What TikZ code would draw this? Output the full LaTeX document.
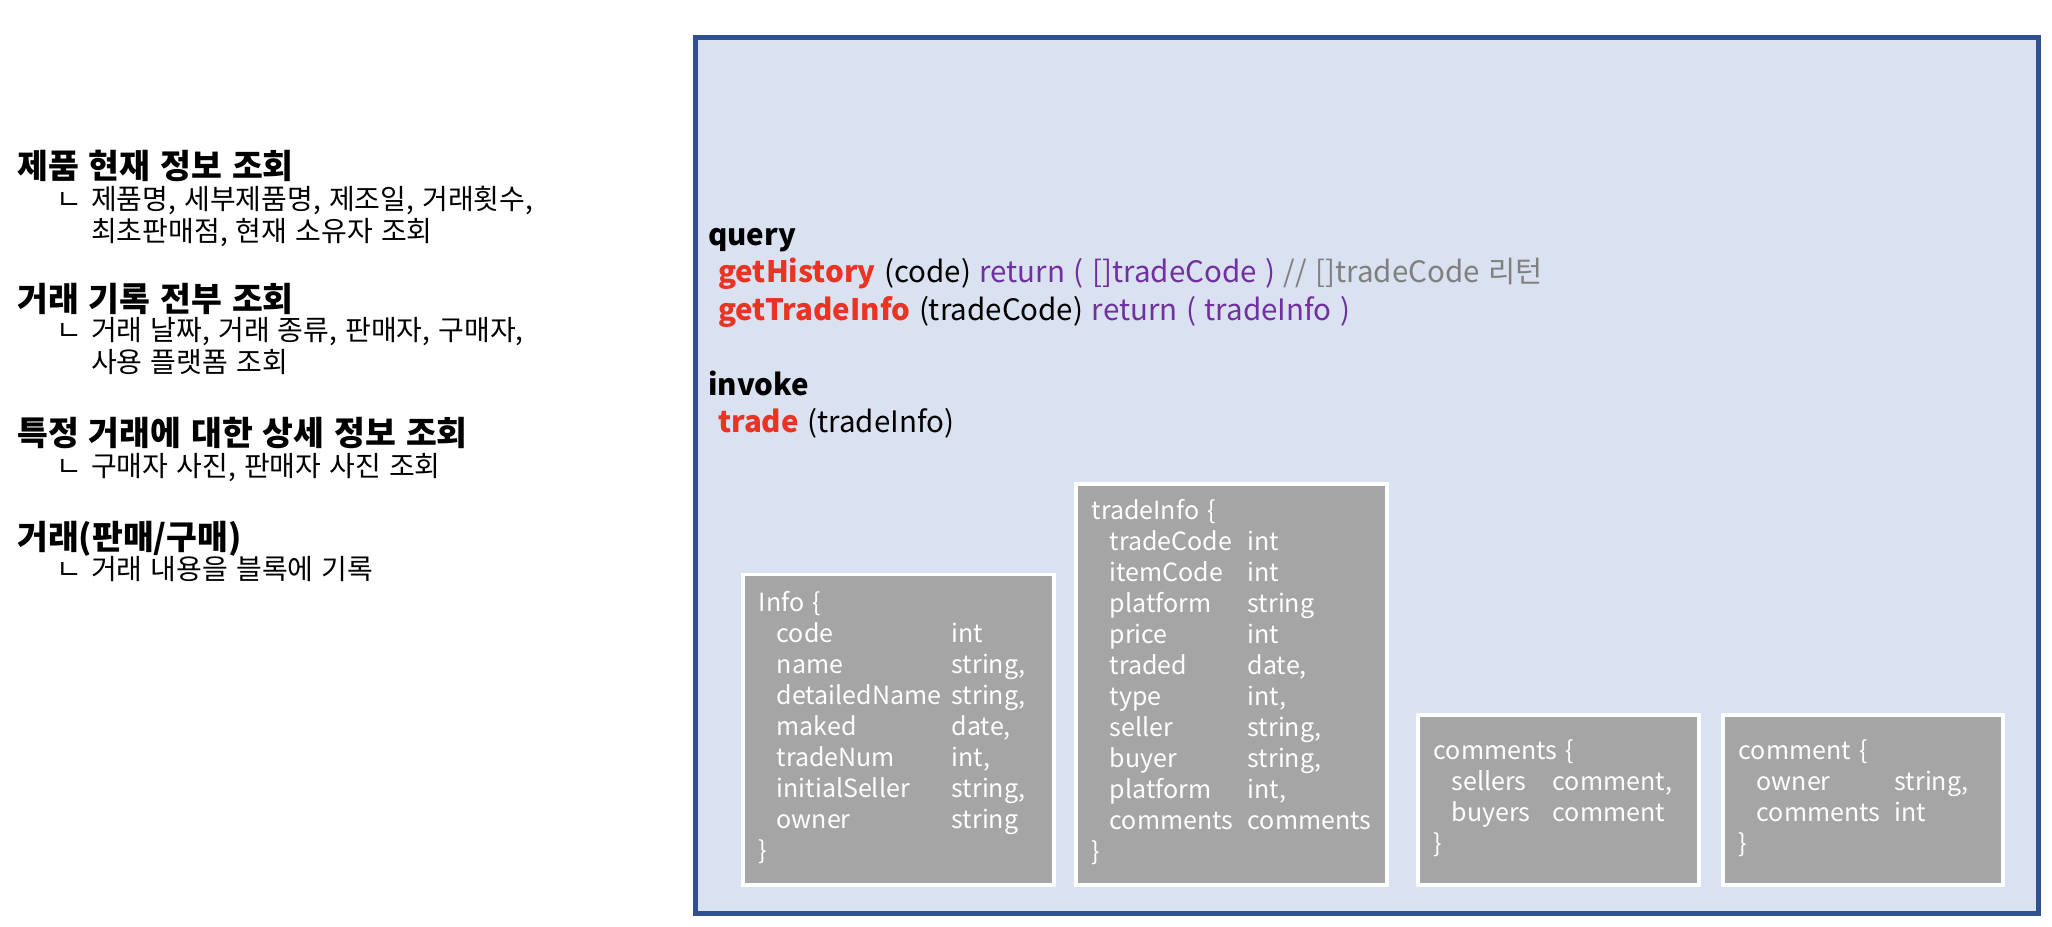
\documentclass[tikz,border=0pt]{standalone}
\usepackage{fontspec}
\setmainfont[WordSpace=1.3]{Noto Sans CJK KR}
\usetikzlibrary{positioning}
\definecolor{panelfill}{RGB}{218,225,240}
\definecolor{panelline}{RGB}{47,82,143}
\definecolor{boxgray}{RGB}{165,165,165}
\definecolor{fnred}{RGB}{234,51,35}
\definecolor{kwpurple}{RGB}{112,48,160}
\definecolor{cmtgray}{RGB}{128,128,128}
\tikzset{head/.style={anchor=base west, inner sep=0, font=\fontsize{33.5}{38}\selectfont\bfseries},
% the sub lines under each heading
sub/.style={anchor=base west, inner sep=0, font=\fontsize{28}{30.5}\selectfont},
panel/.style={draw=panelline, line width=5, fill=panelfill, anchor=north west, inner sep=0},
struct/.style={draw=white, line width=3.5, fill=boxgray, text=white, anchor=north west, inner xsep=16, inner ysep=0, align=left, font=\fontsize{25}{31}\selectfont},
api/.style={anchor=base west, inner sep=0, font=\fontsize{29.5}{37.5}\selectfont}
}
\newcommand{\fn}[1]{{\color{fnred}\bfseries #1}}
\newcommand{\kw}[1]{{\color{kwpurple}#1}}

\begin{document}
\begin{tikzpicture}[x=1pt,y=-1pt]
  \useasboundingbox (0,0) rectangle (2052,926);
  % left column: what the chaincode must do
  \node[head] (h1) at (17,178) {제품 현재 정보 조회};
  \node[sub] (s1) at (56,209) {\begin{tabular}[t]{@{}p{35pt}@{}l@{}}ㄴ & 제품명, 세부제품명, 제조일, 거래횟수,\\ & 최초판매점, 현재 소유자 조회\end{tabular}};
  \node[head] (h2) at (17,311) {거래 기록 전부 조회};
  \node[sub] (s2) at (56,340) {\begin{tabular}[t]{@{}p{35pt}@{}l@{}}ㄴ & 거래 날짜, 거래 종류, 판매자, 구매자,\\ & 사용 플랫폼 조회\end{tabular}};
  \node[head] (h3) at (17,445) {특정 거래에 대한 상세 정보 조회};
  \node[sub] (s3) at (56,476) {\begin{tabular}[t]{@{}p{35pt}@{}l@{}}ㄴ & 구매자 사진, 판매자 사진 조회\end{tabular}};
  \node[head] (h4) at (17,549) {거래(판매/구매)};
  \node[sub] (s4) at (56,579) {\begin{tabular}[t]{@{}p{35pt}@{}l@{}}ㄴ & 거래 내용을 블록에 기록\end{tabular}};

  % right panel with the interface
  \node[panel, minimum width=1343, minimum height=876] (pnl) at (692.5,34.5) {};
  \node[api] (calls) at (708,245) {\begin{tabular}[t]{@{}l@{}}
    \textbf{query}\\
    \hspace*{10pt}\fn{getHistory} (code) \kw{return ( []tradeCode )} {\color{cmtgray}// []tradeCode 리턴}\\
    \hspace*{10pt}\fn{getTradeInfo} (tradeCode) \kw{return ( tradeInfo )}\\
    \\
    \textbf{invoke}\\
    \hspace*{10pt}\fn{trade} (tradeInfo)
  \end{tabular}};

  % data structures
  \node[struct, text width=279, minimum height=310.5] (info) at (741,572.5) {\begin{tabular}{@{\hspace{18pt}}p{175pt}@{}l@{}}
    \multicolumn{2}{@{}l@{}}{Info \{}\\
    code & int\\
    name & string,\\
    detailedName & string,\\
    maked & date,\\
    tradeNum & int,\\
    initialSeller & string,\\
    owner & string\\
    \multicolumn{2}{@{}l@{}}{\}}
  \end{tabular}};
  \node[struct, text width=279, minimum height=401] (tinfo) at (1074,482) {\begin{tabular}{@{\hspace{18pt}}p{138pt}@{}l@{}}
    \multicolumn{2}{@{}l@{}}{tradeInfo \{}\\
    tradeCode & int\\
    itemCode & int\\
    platform & string\\
    price & int\\
    traded & date,\\
    type & int,\\
    seller & string,\\
    buyer & string,\\
    platform & int,\\
    comments & comments\\
    \multicolumn{2}{@{}l@{}}{\}}
  \end{tabular}};
  \node[struct, text width=249, minimum height=170] (cmts) at (1416,713) {\begin{tabular}{@{\hspace{18pt}}p{101pt}@{}l@{}}
    \multicolumn{2}{@{}l@{}}{comments \{}\\
    sellers & comment,\\
    buyers & comment\\
    \multicolumn{2}{@{}l@{}}{\}}
  \end{tabular}};
  \node[struct, text width=248, minimum height=170] (cmt) at (1721,713) {\begin{tabular}{@{\hspace{18pt}}p{138pt}@{}l@{}}
    \multicolumn{2}{@{}l@{}}{comment \{}\\
    owner & string,\\
    comments & int\\
    \multicolumn{2}{@{}l@{}}{\}}
  \end{tabular}};
\end{tikzpicture}
\end{document}
